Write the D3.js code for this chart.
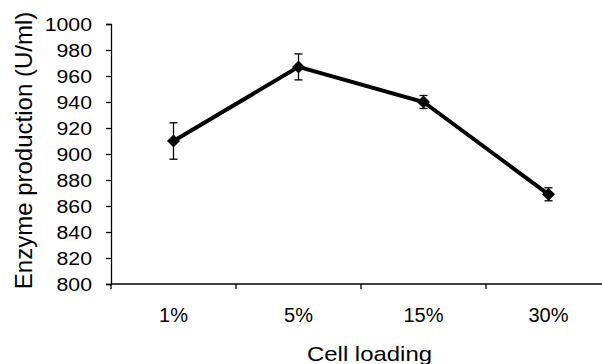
<!DOCTYPE html>
<html>
<head>
<meta charset="utf-8">
<script src="https://cdn.jsdelivr.net/npm/d3@7"></script>
<style>
html,body{margin:0;padding:0;background:#fff;}
svg{display:block;}
text{font-family:"Liberation Sans",Arial,Helvetica,sans-serif;fill:#000;}
</style>
</head>
<body>
<svg id="chart" width="602" height="364"></svg>
<script>
const categories = ["1%", "5%", "15%", "30%"];
const values = [910, 967, 940, 869];
const errors = [14, 10, 5, 5];
const yTicks = [800, 820, 840, 860, 880, 900, 920, 940, 960, 980, 1000];
const xTitle = "Cell loading";
const yTitle = "Enzyme production (U/ml)";

const svg = d3.select("#chart");
const plotLeft = 111, plotRight = 611, plotTop = 24, plotBottom = 284;

const x = d3.scaleBand().domain(categories).range([plotLeft, plotRight]).paddingInner(0).paddingOuter(0);
const y = d3.scaleLinear().domain([800, 1000]).range([plotBottom, plotTop]);
const cx = d => x(d) + x.bandwidth() / 2;

const axisColor = "#000";

// Y axis
const yAxis = svg.append("g").attr("transform", `translate(${plotLeft},0)`)
  .call(d3.axisLeft(y).tickValues(yTicks).tickSize(5).tickPadding(0).tickFormat(d3.format("d")));
yAxis.select(".domain").attr("stroke", axisColor).attr("stroke-width", 1.3);
yAxis.selectAll(".tick line").attr("stroke", axisColor).attr("stroke-width", 1.3);
yAxis.selectAll(".tick text")
  .attr("x", 0).attr("dy", "0.35em")
  .attr("transform", "translate(-19,0) scale(1.15,1)")
  .style("font-size", "18.5px")
  .style("font-family", "'Liberation Sans',Arial,sans-serif")
  .attr("fill", "#000");

// X axis line
svg.append("line")
  .attr("x1", plotLeft).attr("x2", plotRight)
  .attr("y1", y(800)).attr("y2", y(800))
  .attr("stroke", axisColor).attr("stroke-width", 1.3);

// X tick marks at category boundaries
svg.append("g").selectAll("line")
  .data(categories)
  .join("line")
  .attr("x1", d => x(d)).attr("x2", d => x(d))
  .attr("y1", y(800)).attr("y2", y(800) + 5)
  .attr("stroke", axisColor).attr("stroke-width", 1.3);

// X tick labels
svg.append("g").selectAll("text")
  .data(categories)
  .join("text")
  .attr("x", d => cx(d))
  .attr("y", 322)
  .attr("text-anchor", "middle")
  .style("font-size", "20px")
  .text(d => d);

// X title
svg.append("text")
  .attr("x", 369.5).attr("y", 361)
  .attr("text-anchor", "middle")
  .attr("textLength", 125)
  .attr("lengthAdjust", "spacingAndGlyphs")
  .style("font-size", "21px")
  .text(xTitle);

// Y title
svg.append("text")
  .attr("transform", `translate(32,${150.5}) rotate(-90)`)
  .attr("text-anchor", "middle")
  .style("font-size", "24px")
  .text(yTitle);

const data = categories.map((c, i) => ({c, v: values[i], e: errors[i]}));

// Line
const line = d3.line().x(d => cx(d.c)).y(d => y(d.v));
svg.append("path")
  .datum(data)
  .attr("d", line)
  .attr("fill", "none")
  .attr("stroke", "#000")
  .attr("stroke-width", 4)
  .attr("stroke-linejoin", "miter");

// Error bars
const eb = svg.append("g").attr("stroke", "#000").attr("stroke-width", 1.3);
eb.selectAll("line.v").data(data).join("line").attr("class", "v")
  .attr("x1", d => cx(d.c)).attr("x2", d => cx(d.c))
  .attr("y1", d => y(d.v + d.e)).attr("y2", d => y(d.v - d.e));
eb.selectAll("line.t").data(data).join("line").attr("class", "t")
  .attr("x1", d => cx(d.c) - 4).attr("x2", d => cx(d.c) + 4)
  .attr("y1", d => y(d.v + d.e)).attr("y2", d => y(d.v + d.e));
eb.selectAll("line.b").data(data).join("line").attr("class", "b")
  .attr("x1", d => cx(d.c) - 4).attr("x2", d => cx(d.c) + 4)
  .attr("y1", d => y(d.v - d.e)).attr("y2", d => y(d.v - d.e));

// Diamond markers
svg.append("g").selectAll("path")
  .data(data)
  .join("path")
  .attr("transform", d => `translate(${cx(d.c)},${y(d.v)})`)
  .attr("d", "M0,-6.5L6.5,0L0,6.5L-6.5,0Z")
  .attr("fill", "#000");
</script>
</body>
</html>
